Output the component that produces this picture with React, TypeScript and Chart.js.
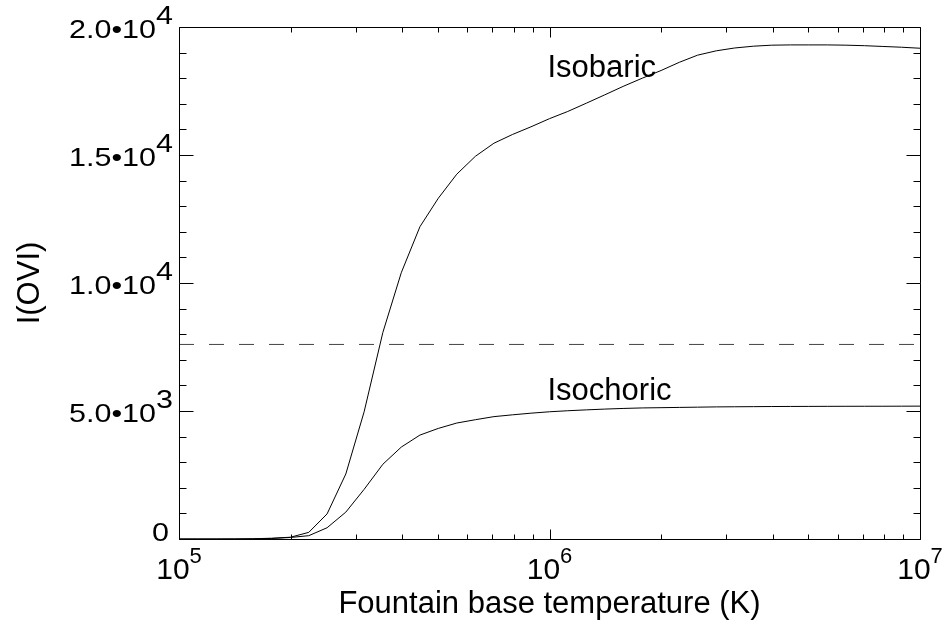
import React, { useEffect, useRef } from "react";
import { Chart, registerables } from "chart.js";

Chart.register(...registerables);

// Fountain base temperature (K), log-spaced samples
const temperatures = [
  1.0e5, 1.12e5, 1.26e5, 1.41e5, 1.58e5, 1.78e5, 2.0e5, 2.24e5, 2.51e5, 2.82e5,
  3.16e5, 3.55e5, 3.98e5, 4.47e5, 5.01e5, 5.62e5, 6.31e5, 7.08e5, 7.94e5, 8.91e5,
  1.0e6, 1.12e6, 1.26e6, 1.41e6, 1.58e6, 1.78e6, 2.0e6, 2.24e6, 2.51e6, 2.82e6,
  3.16e6, 3.55e6, 3.98e6, 4.47e6, 5.01e6, 5.62e6, 6.31e6, 7.08e6, 7.94e6, 8.91e6,
  1.0e7,
];

const isobaric = [
  0, 0, 0, 2, 10, 30, 70, 260, 980, 2540,
  4970, 8070, 10400, 12200, 13310, 14250, 14950, 15460, 15800, 16100,
  16420, 16700, 17030, 17350, 17680, 18000, 18300, 18620, 18900, 19070,
  19180, 19250, 19290, 19300, 19300, 19300, 19290, 19270, 19240, 19210,
  19170,
];

const isochoric = [
  0, 0, 0, 1, 5, 20, 60, 130, 440, 1050,
  1940, 2920, 3590, 4060, 4320, 4530, 4660, 4780, 4850, 4915,
  4970, 5010, 5045, 5075, 5100, 5120, 5130, 5140, 5150, 5160,
  5165, 5170, 5175, 5178, 5180, 5182, 5184, 5185, 5186, 5188,
  5190,
];

const referenceLevel = 7600;

const xMin = 1e5;
const xMax = 1e7;
const yMin = 0;
const yMax = 20000;

const xMajorTicks = [1e5, 1e6, 1e7];
const xMinorTicks = [2e5, 3e5, 4e5, 5e5, 6e5, 7e5, 8e5, 9e5, 2e6, 3e6, 4e6, 5e6, 6e6, 7e6, 8e6, 9e6];
const xTickBases = ["10", "10", "10"];
const xTickExponents = ["5", "6", "7"];

const yMajorTicks = [0, 5000, 10000, 15000, 20000];
const yMinorTicks = [1000, 2000, 3000, 4000, 6000, 7000, 8000, 9000, 11000, 12000, 13000, 14000, 16000, 17000, 18000, 19000];
const yTickMantissas = ["0", "5.0•10", "1.0•10", "1.5•10", "2.0•10"];
const yTickExponents = ["", "3", "4", "4", "4"];

const xTitle = "Fountain base temperature (K)";
const yTitle = "I(OVI)";

const curveLabels = ["Isobaric", "Isochoric"];
const curveLabelX = [1.0e6, 1.0e6];
const curveLabelY = [18050, 5430];

const FONT = '"Liberation Sans", Arial, Helvetica, sans-serif';

function drawStretched(ctx: CanvasRenderingContext2D, s: string, x: number, y: number, sx: number) {
  ctx.save();
  ctx.translate(x, y);
  ctx.scale(sx, 1);
  ctx.fillText(s, 0, 0);
  ctx.restore();
}

const axesPlugin = {
  id: "idlAxes",
  afterDraw(chart: any) {
    const ctx = chart.ctx as CanvasRenderingContext2D;
    const { left, right, top, bottom } = chart.chartArea;
    const xs = chart.scales.x;
    const ys = chart.scales.y;
    ctx.save();
    ctx.strokeStyle = "#000";
    ctx.lineWidth = 1;
    ctx.beginPath();
    ctx.rect(Math.round(left) + 0.5, Math.round(top) + 0.5, Math.round(right - left), Math.round(bottom - top));
    ctx.stroke();

    const vline = (x: number, y0: number, y1: number) => {
      const px = Math.round(x) + 0.5;
      ctx.beginPath();
      ctx.moveTo(px, y0);
      ctx.lineTo(px, y1);
      ctx.stroke();
    };
    const hline = (y: number, x0: number, x1: number) => {
      const py = Math.round(y) + 0.5;
      ctx.beginPath();
      ctx.moveTo(x0, py);
      ctx.lineTo(x1, py);
      ctx.stroke();
    };
    const b = Math.round(bottom) + 0.5;
    const t = Math.round(top) + 0.5;
    const l = Math.round(left) + 0.5;
    const r = Math.round(right) + 0.5;
    xMajorTicks.forEach((v) => {
      const x = xs.getPixelForValue(v);
      vline(x, b, b - 10);
      vline(x, t, t + 10);
    });
    xMinorTicks.forEach((v) => {
      const x = xs.getPixelForValue(v);
      vline(x, b, b - 5);
      vline(x, t, t + 5);
    });
    yMajorTicks.forEach((v) => {
      const y = ys.getPixelForValue(v);
      hline(y, l, l + 14);
      hline(y, r, r - 14);
    });
    yMinorTicks.forEach((v) => {
      const y = ys.getPixelForValue(v);
      hline(y, l, l + 7);
      hline(y, r, r - 7);
    });

    ctx.fillStyle = "#000";
    ctx.textBaseline = "alphabetic";
    ctx.textAlign = "left";

    // x tick labels
    xMajorTicks.forEach((v, i) => {
      const x = xs.getPixelForValue(v);
      ctx.font = `30px ${FONT}`;
      const wb = ctx.measureText(xTickBases[i]).width;
      ctx.font = `22px ${FONT}`;
      const we = ctx.measureText(xTickExponents[i]).width;
      const start = x - (wb + we) / 2;
      ctx.font = `30px ${FONT}`;
      ctx.fillText(xTickBases[i], start, bottom + 40);
      ctx.font = `22px ${FONT}`;
      ctx.fillText(xTickExponents[i], start + wb, bottom + 24);
    });

    // y tick labels (slightly wide lettering, as in the original)
    const labelRight = left - 6;
    const sx = 1.22;
    ctx.font = `25px ${FONT}`;
    yMajorTicks.forEach((v, i) => {
      const y = ys.getPixelForValue(v);
      if (yTickExponents[i]) {
        const wm = ctx.measureText(yTickMantissas[i]).width * sx;
        const we = ctx.measureText(yTickExponents[i]).width * sx;
        const start = labelRight - wm - we;
        drawStretched(ctx, yTickMantissas[i], start, y + 11, sx);
        drawStretched(ctx, yTickExponents[i], start + wm, y - 3, sx);
      } else {
        const w = ctx.measureText(yTickMantissas[i]).width * sx;
        drawStretched(ctx, yTickMantissas[i], labelRight - 4 - w, y + 2, sx);
      }
    });

    // axis titles
    ctx.font = `31px ${FONT}`;
    ctx.textAlign = "center";
    ctx.fillText(xTitle, (left + right) / 2, bottom + 74);
    ctx.save();
    ctx.translate(39, (top + bottom) / 2);
    ctx.rotate(-Math.PI / 2);
    ctx.fillText(yTitle, 0, 0);
    ctx.restore();

    // curve labels
    ctx.textAlign = "left";
    ctx.font = `31px ${FONT}`;
    curveLabels.forEach((txt, i) => {
      ctx.fillText(txt, xs.getPixelForValue(curveLabelX[i]) - 2, ys.getPixelForValue(curveLabelY[i]));
    });
    ctx.restore();
  },
};

export default function App() {
  const canvasRef = useRef<HTMLCanvasElement | null>(null);

  useEffect(() => {
    const canvas = canvasRef.current;
    if (!canvas) return;
    const chart = new Chart(canvas, {
      type: "line",
      data: {
        datasets: [
          {
            label: "Isobaric",
            data: temperatures.map((t, i) => ({ x: t, y: isobaric[i] })),
            borderColor: "#000",
            borderWidth: 1,
            pointRadius: 0,
            tension: 0,
            fill: false,
          },
          {
            label: "Isochoric",
            data: temperatures.map((t, i) => ({ x: t, y: isochoric[i] })),
            borderColor: "#000",
            borderWidth: 1,
            pointRadius: 0,
            tension: 0,
            fill: false,
          },
          {
            label: "Reference",
            data: [
              { x: xMin, y: referenceLevel },
              { x: xMax, y: referenceLevel },
            ],
            borderColor: "#444",
            borderWidth: 1,
            borderDash: [15, 15],
            pointRadius: 0,
            tension: 0,
            fill: false,
          },
        ],
      },
      options: {
        responsive: false,
        animation: false,
        devicePixelRatio: 1,
        layout: { padding: { left: 179, top: 27, right: 31, bottom: 88 } },
        plugins: { legend: { display: false }, tooltip: { enabled: false } },
        scales: {
          x: { type: "logarithmic", min: xMin, max: xMax, display: false },
          y: { type: "linear", min: yMin, max: yMax, display: false },
        },
      },
      plugins: [axesPlugin],
    });
    return () => chart.destroy();
  }, []);

  return (
    <div style={{ position: "fixed", left: 0, top: 0, width: 951, height: 627, background: "#fff" }}>
      <canvas ref={canvasRef} width={951} height={627} style={{ display: "block" }} />
    </div>
  );
}
